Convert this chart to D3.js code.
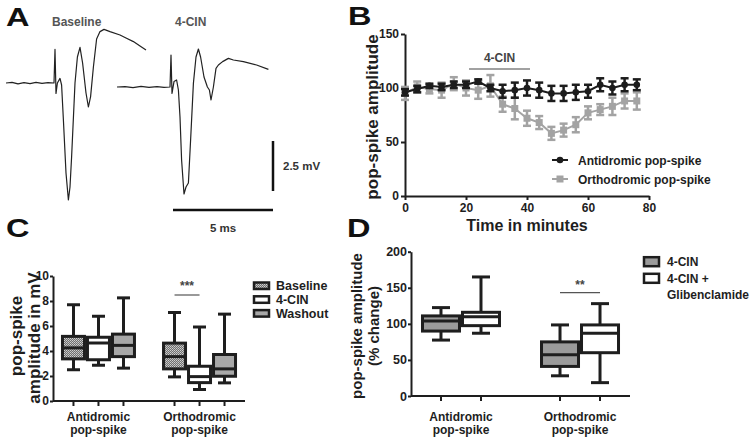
<!DOCTYPE html>
<html><head><meta charset="utf-8">
<script src="https://cdn.jsdelivr.net/npm/d3@7"></script>
<style>
html,body{margin:0;padding:0;background:#fff;}
svg{display:block;font-family:"Liberation Sans",Arial,sans-serif;font-weight:bold;}
</style></head>
<body><svg id="fig" width="750" height="439"></svg>
<script>
// ---------- DATA ----------
// Panel A: example traces (time in ms, voltage in mV, relative to pre-stimulus baseline)
const traceBaselineT = [0,0.3,0.6,0.9,1.2,1.5,1.8,2.1,2.4,2.45,2.5,2.57,2.7,2.78,2.87,3.0,3.12,3.2,3.28,3.45,3.57,3.7,3.83,4.0,4.12,4.23,4.37,4.53,4.7,4.9,5.2,5.7,6.0,6.37,6.7,7.0];
const traceBaselineV = [0,0.03,-0.04,0.02,-0.03,0.03,-0.02,0.02,0,1.68,-0.52,0,0.23,-0.1,-1.85,-4.5,-5.85,-5.2,-3.7,0,1.3,1.78,1.0,-0.5,-1.2,-0.68,0.8,2.2,2.57,2.68,2.57,2.4,2.25,2.07,1.85,1.65];
const trace4CINT = [0,0.4,0.8,1.2,1.6,2.0,2.35,2.65,2.7,2.75,2.85,2.98,3.07,3.15,3.23,3.35,3.45,3.57,3.68,3.82,3.95,4.07,4.18,4.35,4.52,4.62,4.7,4.82,4.95,5.07,5.28,5.57,5.82,6.32,6.98,7.57];
const trace4CINV = [0,0.02,-0.03,0.03,-0.02,0.02,-0.02,0,1.6,-0.32,0.27,0.35,-0.15,-1.5,-3.65,-5.35,-5.0,-4.8,-2.65,0.18,1.5,1.9,1.5,0.5,0,-0.15,-0.65,0,0.93,1.1,1.27,1.43,1.35,1.27,1.1,0.88];
const traceLabels = ["Baseline","4-CIN"];
const scaleBarMs = 5, scaleBarMv = 2.5;

// Panel B: time course
const bTimes = [0,4,8,12,16,20,24,28,32,36,40,44,48,52,56,60,64,68,72,76];
const antiMean = [96,99,102,101,103,103,106,100,97,98,100,98,95,95,96,97,103,100,103,103];
const antiSem  = [3,3,2,3,3,3,2,3,6,7,7,7,7,7,7,6,6,6,6,5];
const orthoMean = [95,101,99,98,104,100,98,102,85,81,72,68,58,61,66,77,80,83,88,88];
const orthoSem  = [6,5,4,7,6,7,8,10,7,10,7,6,6,6,7,6,5,8,7,8];
const bXTicks = [0,20,40,60,80];
const bYTicks = [0,50,100,150];
const drugWindow = [21,41];

// Panel C: box plots (min, Q1, median, Q3, max) for [Antidromic, Orthodromic]
const cGroups = ["Antidromic","Orthodromic"];
const cSeries = ["Baseline","4-CIN","Washout"];
const cBaseline = [[2.5,3.37,4.25,5.17,7.7],[1.93,2.57,3.55,4.63,7.08]];
const c4CIN     = [[2.86,3.3,4.64,5.1,6.78],[0.92,1.47,1.95,2.78,5.92]];
const cWashout  = [[2.63,3.55,4.45,5.35,8.25],[1.45,1.98,2.57,3.72,6.95]];
const cYTicks = [0,2,4,6,8,10];

// Panel D: box plots (% change)
const dGroups = ["Antidromic","Orthodromic"];
const dSeries = ["4-CIN","4-CIN + Glibenclamide"];
const d4CIN  = [[77.5,90,104,111,122.5],[28,41,57,75,98.5]];
const dGlib  = [[87,97.5,110,116,165],[18.5,60,87,98.5,128]];
const dYTicks = [0,50,100,150,200];

// ---------- DRAW ----------
const svg = d3.select("#fig");
const INK = "#1e1e1e";
const defs = svg.append("defs");
const pat = defs.append("pattern").attr("id","dots").attr("width",2).attr("height",2).attr("patternUnits","userSpaceOnUse");
pat.append("rect").attr("width",2).attr("height",2).attr("fill","#707070");
pat.append("rect").attr("width",1).attr("height",1).attr("fill","#d0d0d0");
pat.append("rect").attr("x",1).attr("y",1).attr("width",1).attr("height",1).attr("fill","#b8b8b8");

function panelLetter(t,x,y){
  svg.append("text").attr("x",x).attr("y",y).attr("font-size",26).attr("fill","#111")
    .attr("transform",`translate(${x},${y}) scale(1.25,1) translate(${-x},${-y})`).text(t);
}
panelLetter("A",6,26);
panelLetter("B",348,25);
panelLetter("C",6,237);
panelLetter("D",347,237);

// ----- Panel A -----
const xT = d3.scaleLinear().domain([0,1]).range([0,20]);
const yT = d3.scaleLinear().domain([0,1]).range([0,-20]);
const traceLine = d3.line().x(d=>xT(d[0])).y(d=>yT(d[1]));
const traces = [
  {t:traceBaselineT, v:traceBaselineV, ox:6, oy:83, label:traceLabels[0], lx:52},
  {t:trace4CINT, v:trace4CINV, ox:117, oy:87, label:traceLabels[1], lx:175}
];
traces.forEach(tr=>{
  const g = svg.append("g").attr("transform",`translate(${tr.ox},${tr.oy})`);
  g.append("path").datum(tr.t.map((t,i)=>[t,tr.v[i]])).attr("d",traceLine)
    .attr("fill","none").attr("stroke","#222").attr("stroke-width",1.2).attr("stroke-linejoin","round");
  svg.append("text").attr("x",tr.lx).attr("y",26).attr("font-size",12).attr("fill","#555").text(tr.label);
});
const sbx = 273, sby = 191;
svg.append("line").attr("x1",sbx).attr("x2",sbx).attr("y1",sby).attr("y2",sby+yT(scaleBarMv))
  .attr("stroke","#111").attr("stroke-width",2.5);
svg.append("text").attr("x",sbx+10).attr("y",sby+yT(scaleBarMv)/2+4).attr("font-size",11.5).attr("fill","#333").text(scaleBarMv+" mV");
const hby = 210;
svg.append("line").attr("x1",sbx-xT(scaleBarMs)).attr("x2",sbx).attr("y1",hby).attr("y2",hby)
  .attr("stroke","#111").attr("stroke-width",2.5);
svg.append("text").attr("x",sbx-xT(scaleBarMs)/2).attr("y",232).attr("text-anchor","middle").attr("font-size",11.5).attr("fill","#333").text(scaleBarMs+" ms");

// ----- Panel B -----
const xB = d3.scaleLinear().domain([0,80]).range([405,649]);
const yB = d3.scaleLinear().domain([0,150]).range([196,34]);
function styleAxis(g,fs){
  g.selectAll("path.domain").attr("stroke",INK).attr("stroke-width",2);
  g.selectAll(".tick line").attr("stroke",INK).attr("stroke-width",2);
  g.selectAll(".tick text").attr("fill",INK).attr("font-size",fs).attr("font-family",null).attr("font-weight","bold");
}
const gBx = svg.append("g").attr("transform",`translate(0,${yB(0)})`)
  .call(d3.axisBottom(xB).tickValues(bXTicks).tickSize(4).tickSizeOuter(0).tickPadding(3));
styleAxis(gBx,12);
const gBy = svg.append("g").attr("transform",`translate(${xB(0)},0)`)
  .call(d3.axisLeft(yB).tickValues(bYTicks).tickSize(4).tickSizeOuter(0).tickPadding(2));
styleAxis(gBy,12);
svg.append("text").attr("transform",`translate(378,${(yB(0)+yB(150))/2+2}) rotate(-90)`)
  .attr("text-anchor","middle").attr("font-size",17).attr("fill",INK).text("pop-spike amplitude");
svg.append("text").attr("x",(xB(0)+xB(80))/2).attr("y",231).attr("text-anchor","middle")
  .attr("font-size",16).attr("fill",INK).text("Time in minutes");
svg.append("line").attr("x1",xB(drugWindow[0])).attr("x2",xB(drugWindow[1])).attr("y1",69).attr("y2",69)
  .attr("stroke","#444").attr("stroke-width",1.2);
svg.append("text").attr("x",(xB(drugWindow[0])+xB(drugWindow[1]))/2).attr("y",62).attr("text-anchor","middle")
  .attr("font-size",12).attr("fill","#444").text("4-CIN");

function drawSeries(mean,sem,color,shape){
  const pts = bTimes.map((t,i)=>({t, m:mean[i], s:sem[i]}));
  const g = svg.append("g");
  g.append("path").datum(pts).attr("d",d3.line().x(d=>xB(d.t)).y(d=>yB(d.m)))
    .attr("fill","none").attr("stroke",color).attr("stroke-width",2);
  const eb = g.selectAll("g.eb").data(pts).join("g");
  eb.append("line").attr("x1",d=>xB(d.t)).attr("x2",d=>xB(d.t)).attr("y1",d=>yB(d.m-d.s)).attr("y2",d=>yB(d.m+d.s))
    .attr("stroke",color).attr("stroke-width",2.5);
  [1,-1].forEach(k=>{
    eb.append("line").attr("x1",d=>xB(d.t)-4).attr("x2",d=>xB(d.t)+4)
      .attr("y1",d=>yB(d.m+k*d.s)).attr("y2",d=>yB(d.m+k*d.s)).attr("stroke",color).attr("stroke-width",2.5);
  });
  if(shape==="circle"){
    eb.append("circle").attr("cx",d=>xB(d.t)).attr("cy",d=>yB(d.m)).attr("r",3.3).attr("fill",color);
  } else {
    eb.append("rect").attr("x",d=>xB(d.t)-3.5).attr("y",d=>yB(d.m)-3.5).attr("width",7).attr("height",7).attr("fill",color);
  }
}
const GRAYB = "#a3a3a3";
drawSeries(orthoMean,orthoSem,GRAYB,"square");
drawSeries(antiMean,antiSem,"#1c1c1c","circle");
[["Antidromic pop-spike","#1c1c1c","circle",160],["Orthodromic pop-spike",GRAYB,"square",179]].forEach(([lab,col,sh,y])=>{
  svg.append("line").attr("x1",552).attr("x2",568).attr("y1",y).attr("y2",y).attr("stroke",col).attr("stroke-width",2);
  if(sh==="circle") svg.append("circle").attr("cx",560).attr("cy",y).attr("r",3.3).attr("fill",col);
  else svg.append("rect").attr("x",556.5).attr("y",y-3.5).attr("width",7).attr("height",7).attr("fill",col);
  svg.append("text").attr("x",578).attr("y",y+4.5).attr("font-size",12).attr("fill",INK).text(lab);
});

// ----- box plot helper -----
function boxPanel(opt){
  const {x0,x1,y,seriesData,fills,boxW,capW,groups} = opt;
  const g = svg.append("g");
  seriesData.forEach((sd,si)=>{
    sd.forEach((st,gi)=>{
      const cx = x0(groups[gi]) + x1(opt.series[si]) + x1.bandwidth()/2;
      const [mn,q1,md,q3,mx] = st;
      const s = g.append("g").attr("stroke",INK).attr("stroke-width",3).attr("stroke-linecap","butt");
      s.append("line").attr("x1",cx).attr("x2",cx).attr("y1",y(mx)).attr("y2",y(q3));
      s.append("line").attr("x1",cx).attr("x2",cx).attr("y1",y(q1)).attr("y2",y(mn));
      s.append("line").attr("x1",cx-capW/2).attr("x2",cx+capW/2).attr("y1",y(mx)).attr("y2",y(mx));
      s.append("line").attr("x1",cx-capW/2).attr("x2",cx+capW/2).attr("y1",y(mn)).attr("y2",y(mn));
      s.append("rect").attr("x",cx-boxW/2).attr("y",y(q3)).attr("width",boxW).attr("height",y(q1)-y(q3)).attr("fill",fills[si]);
      s.append("line").attr("x1",cx-boxW/2).attr("x2",cx+boxW/2).attr("y1",y(md)).attr("y2",y(md));
    });
  });
  const r = x0.range();
  svg.append("line").attr("x1",r[0]).attr("x2",r[1]).attr("y1",y(0)).attr("y2",y(0)).attr("stroke",INK).attr("stroke-width",2);
  groups.forEach(gr=>{
    opt.series.forEach(se=>{
      const cx = x0(gr)+x1(se)+x1.bandwidth()/2;
      svg.append("line").attr("x1",cx).attr("x2",cx).attr("y1",y(0)).attr("y2",y(0)+5).attr("stroke",INK).attr("stroke-width",2);
    });
    const lines = [gr, "pop-spike"];
    lines.forEach((l,i)=>svg.append("text").attr("x",x0(gr)).attr("y",420.5+i*13.5).attr("text-anchor","middle")
      .attr("font-size",12).attr("fill",INK).text(l));
  });
  const gy = svg.append("g").attr("transform",`translate(${r[0]},0)`)
    .call(d3.axisLeft(y).tickValues(opt.yTicks).tickSize(3).tickSizeOuter(0).tickPadding(1));
  styleAxis(gy,opt.tickFs);
}

// ----- Panel C -----
const yC = d3.scaleLinear().domain([0,10]).range([401,276]);
const x0C = d3.scalePoint().domain(cGroups).range([53,245]).padding(0.45);
const x1C = d3.scaleBand().domain(cSeries).range([-37.5,37.5]);
boxPanel({x0:x0C,x1:x1C,y:yC,groups:cGroups,series:cSeries,seriesData:[cBaseline,c4CIN,cWashout],
  fills:["url(#dots)","#ffffff","#a8a8a8"],boxW:22,capW:13,yTicks:cYTicks,tickFs:12});
svg.append("text").attr("transform",`translate(22,336) rotate(-90)`).attr("text-anchor","middle").attr("font-size",17).attr("fill",INK).text("pop-spike");
svg.append("text").attr("transform",`translate(39.5,338) rotate(-90)`).attr("text-anchor","middle").attr("font-size",17).attr("fill",INK).text("amplitude in mV");
{
  const a = x0C("Orthodromic")+x1C("Baseline")+x1C.bandwidth()/2, b = x0C("Orthodromic")+x1C("4-CIN")+x1C.bandwidth()/2;
  svg.append("line").attr("x1",a).attr("x2",b).attr("y1",295).attr("y2",295).attr("stroke","#555").attr("stroke-width",1.2);
  svg.append("text").attr("x",(a+b)/2).attr("y",290).attr("text-anchor","middle").attr("font-size",12).attr("fill","#444").text("***");
}
const cFillsLeg = ["url(#dots)","#ffffff","#a8a8a8"];
cSeries.forEach((s,i)=>{
  const y = 285.5 + i*13.8;
  svg.append("rect").attr("x",254).attr("y",y-3).attr("width",15).attr("height",6.5).attr("fill",cFillsLeg[i]).attr("stroke",INK).attr("stroke-width",2.5);
  svg.append("text").attr("x",276).attr("y",y+4.5).attr("font-size",12.5).attr("fill",INK).text(s);
});

// ----- Panel D -----
const yD = d3.scaleLinear().domain([0,200]).range([396,251.7]);
const x0D = d3.scalePoint().domain(dGroups).range([411,630]).padding(0.42);
const x1D = d3.scaleBand().domain(dSeries).range([-40,40]);
boxPanel({x0:x0D,x1:x1D,y:yD,groups:dGroups,series:dSeries,seriesData:[d4CIN,dGlib],
  fills:["#9b9b9b","#ffffff"],boxW:37,capW:18,yTicks:dYTicks,tickFs:12.5});
svg.append("text").attr("transform",`translate(362,326) rotate(-90)`).attr("text-anchor","middle").attr("font-size",15).attr("fill",INK).text("pop-spike amplitude");
svg.append("text").attr("transform",`translate(379,326) rotate(-90)`).attr("text-anchor","middle").attr("font-size",15).attr("fill",INK).text("(% change)");
{
  const a = x0D("Orthodromic")+x1D(dSeries[0])+x1D.bandwidth()/2, b = x0D("Orthodromic")+x1D(dSeries[1])+x1D.bandwidth()/2;
  svg.append("line").attr("x1",a).attr("x2",b).attr("y1",292.7).attr("y2",292.7).attr("stroke","#555").attr("stroke-width",1.2);
  svg.append("text").attr("x",(a+b)/2).attr("y",289).attr("text-anchor","middle").attr("font-size",12).attr("fill","#444").text("**");
}
const dFillsLeg = ["#9b9b9b","#ffffff"];
const dLegLines = [["4-CIN"],["4-CIN +","Glibenclamide"]];
dSeries.forEach((s,i)=>{
  const y = 261.7 + i*16.6;
  svg.append("rect").attr("x",644).attr("y",y-4.5).attr("width",15).attr("height",9).attr("fill",dFillsLeg[i]).attr("stroke",INK).attr("stroke-width",2.5);
  dLegLines[i].forEach((l,j)=>svg.append("text").attr("x",667).attr("y",y+4.5+j*16).attr("font-size",12).attr("fill",INK).text(l));
});
</script></body></html>
